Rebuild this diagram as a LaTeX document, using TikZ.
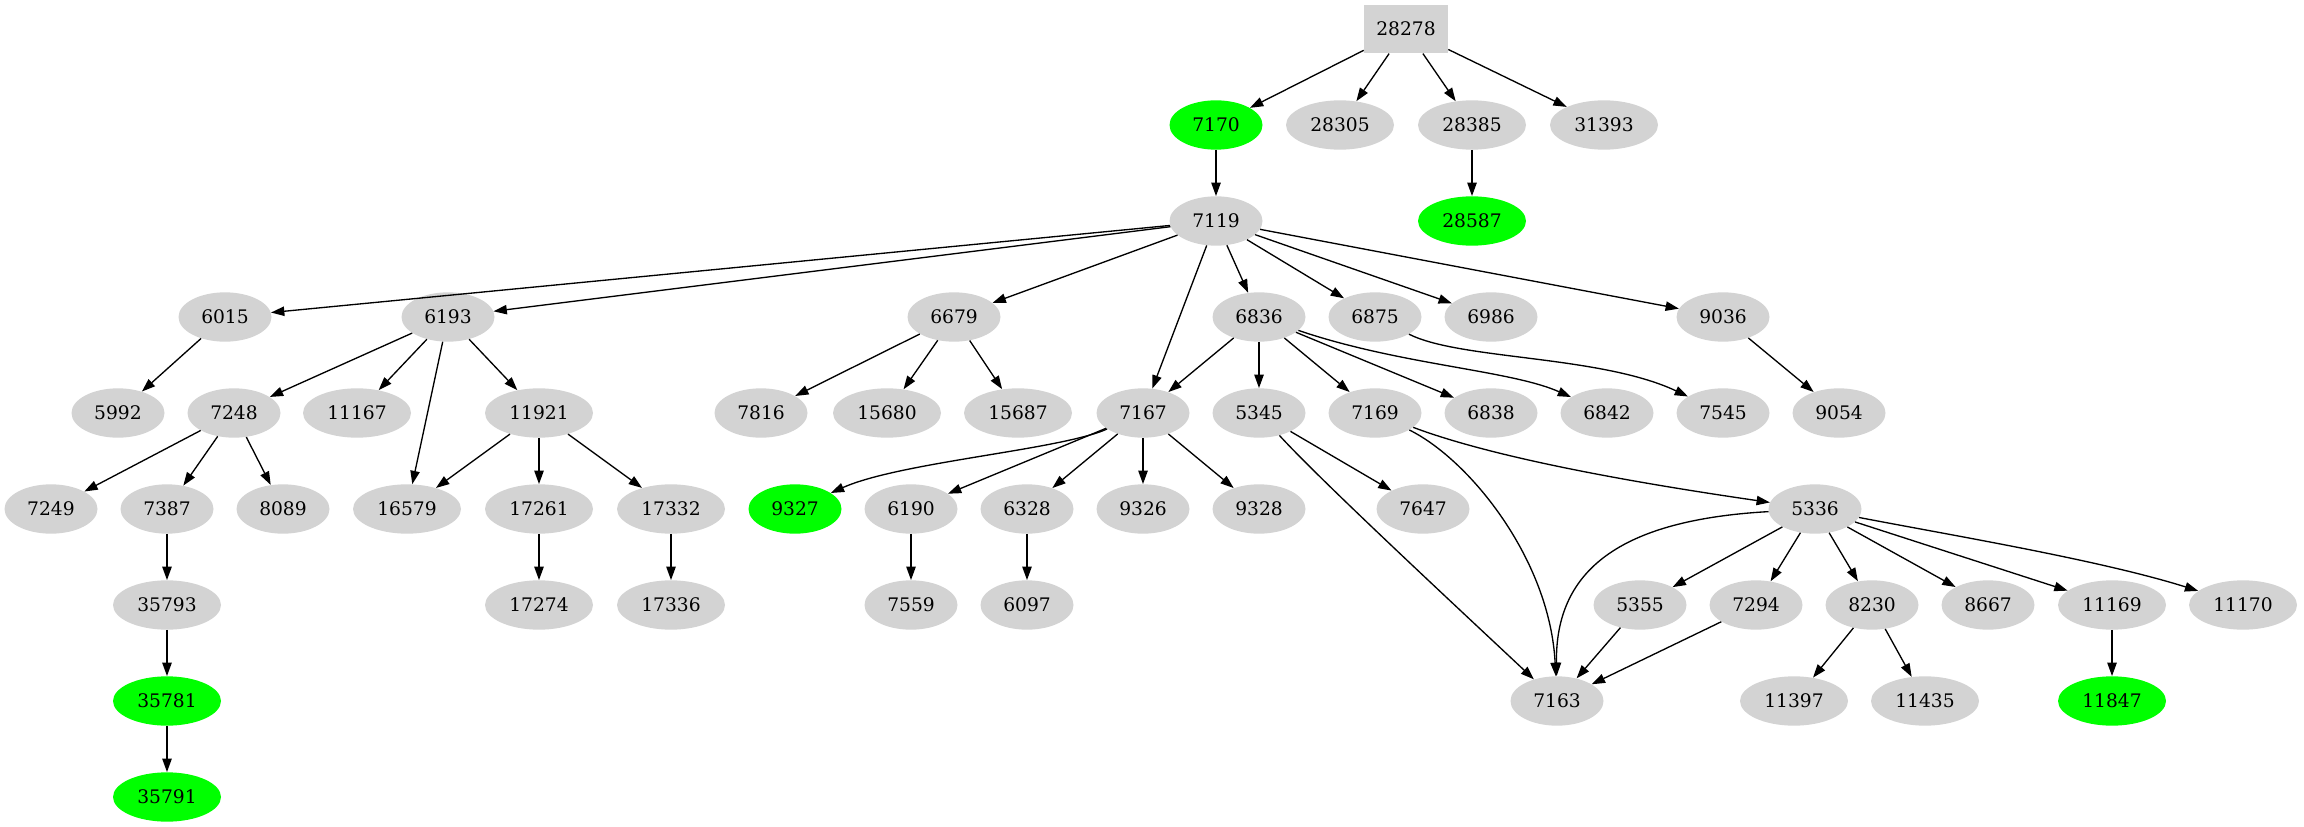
\documentclass[tikz,border=0pt]{standalone}
\usepackage{fontspec}
\setmainfont{DejaVu Serif}
\usepackage{tikz}
\usetikzlibrary{shapes.geometric, arrows.meta}
\definecolor{nodegray}{RGB}{211,211,211}
\definecolor{hitgreen}{RGB}{0,255,0}

\begin{document}
\begin{tikzpicture}[x=0.75pt, y=-0.75pt,
  gnode/.style={ellipse, fill=nodegray, inner sep=0pt, minimum width=69.75pt,
    minimum height=37pt, font=\fontsize{14}{16}\selectfont},
  wide/.style={minimum width=81pt},
  hit/.style={fill=hitgreen},
  rootbox/.style={rectangle, fill=nodegray, inner sep=0pt, minimum width=63pt,
    minimum height=36.5pt, font=\fontsize{14}{16}\selectfont},
  link/.style={-{Triangle[length=10pt, width=7pt]}, line width=1pt}]
  \useasboundingbox (0,0) rectangle (2304,827);

  % root and first rank
  \node[rootbox] (n28278) at (1406,29) {28278};
  \node[gnode, hit] (n7170) at (1216,125) {7170};
  \node[gnode, wide] (n28305) at (1340,125) {28305};
  \node[gnode, wide] (n28385) at (1472,125) {28385};
  \node[gnode, wide] (n31393) at (1604,125) {31393};
  \node[gnode] (n7119) at (1216,221) {7119};
  \node[gnode, wide, hit] (n28587) at (1472,221) {28587};

  % third rank
  \node[gnode] (n6015) at (225,317) {6015};
  \node[gnode] (n6193) at (448,317) {6193};
  \node[gnode] (n6679) at (954,317) {6679};
  \node[gnode] (n6836) at (1259,317) {6836};
  \node[gnode] (n6875) at (1375,317) {6875};
  \node[gnode] (n6986) at (1491,317) {6986};
  \node[gnode] (n9036) at (1723,317) {9036};

  % fourth rank
  \node[gnode] (n5992) at (118,413) {5992};
  \node[gnode] (n7248) at (234,413) {7248};
  \node[gnode, wide] (n11167) at (357,413) {11167};
  \node[gnode, wide] (n11921) at (539,413) {11921};
  \node[gnode] (n7816) at (761,413) {7816};
  \node[gnode, wide] (n15680) at (887,413) {15680};
  \node[gnode, wide] (n15687) at (1018,413) {15687};
  \node[gnode] (n7167) at (1143,413) {7167};
  \node[gnode] (n5345) at (1259,413) {5345};
  \node[gnode] (n7169) at (1375,413) {7169};
  \node[gnode] (n6838) at (1491,413) {6838};
  \node[gnode] (n6842) at (1607,413) {6842};
  \node[gnode] (n7545) at (1723,413) {7545};
  \node[gnode] (n9054) at (1839,413) {9054};

  % fifth rank
  \node[gnode] (n7249) at (51,509) {7249};
  \node[gnode] (n7387) at (167,509) {7387};
  \node[gnode] (n8089) at (283,509) {8089};
  \node[gnode, wide] (n16579) at (407,509) {16579};
  \node[gnode, wide] (n17261) at (539,509) {17261};
  \node[gnode, wide] (n17332) at (671,509) {17332};
  \node[gnode, hit] (n9327) at (795,509) {9327};
  \node[gnode] (n6190) at (911,509) {6190};
  \node[gnode] (n6328) at (1027,509) {6328};
  \node[gnode] (n9326) at (1143,509) {9326};
  \node[gnode] (n9328) at (1259,509) {9328};
  \node[gnode] (n7647) at (1423,509) {7647};
  \node[gnode] (n5336) at (1815,509) {5336};

  % sixth rank
  \node[gnode, wide] (n35793) at (167,605) {35793};
  \node[gnode, wide] (n17274) at (539,605) {17274};
  \node[gnode, wide] (n17336) at (671,605) {17336};
  \node[gnode] (n7559) at (911,605) {7559};
  \node[gnode] (n6097) at (1027,605) {6097};
  \node[gnode] (n5355) at (1640,605) {5355};
  \node[gnode] (n7294) at (1756,605) {7294};
  \node[gnode] (n8230) at (1872,605) {8230};
  \node[gnode] (n8667) at (1988,605) {8667};
  \node[gnode, wide] (n11169) at (2112,605) {11169};
  \node[gnode, wide] (n11170) at (2243,605) {11170};

  % bottom ranks
  \node[gnode, wide, hit] (n35781) at (167,701) {35781};
  \node[gnode] (n7163) at (1557,701) {7163};
  \node[gnode, wide] (n11397) at (1794,701) {11397};
  \node[gnode, wide] (n11435) at (1925,701) {11435};
  \node[gnode, wide, hit] (n11847) at (2112,701) {11847};
  \node[gnode, wide, hit] (n35791) at (167,797) {35791};

  % edges from the root
  \draw[link] (n28278) -- (n7170);
  \draw[link] (n28278) -- (n28305);
  \draw[link] (n28278) -- (n28385);
  \draw[link] (n28278) -- (n31393);
  \draw[link] (n7170) -- (n7119);
  \draw[link] (n28385) -- (n28587);

  % edges from 7119
  \draw[link] (n7119) -- (n6015);
  \draw[link] (n7119) -- (n6193);
  \draw[link] (n7119) -- (n6679);
  \draw[link] (n7119) -- (n7167);
  \draw[link] (n7119) -- (n6836);
  \draw[link] (n7119) -- (n6875);
  \draw[link] (n7119) -- (n6986);
  \draw[link] (n7119) -- (n9036);

  % left part
  \draw[link] (n6015) -- (n5992);
  \draw[link] (n6193) -- (n7248);
  \draw[link] (n6193) -- (n11167);
  \draw[link] (n6193) -- (n16579);
  \draw[link] (n6193) -- (n11921);
  \draw[link] (n7248) -- (n7249);
  \draw[link] (n7248) -- (n7387);
  \draw[link] (n7248) -- (n8089);
  \draw[link] (n11921) -- (n16579);
  \draw[link] (n11921) -- (n17261);
  \draw[link] (n11921) -- (n17332);
  \draw[link] (n7387) -- (n35793);
  \draw[link] (n17261) -- (n17274);
  \draw[link] (n17332) -- (n17336);
  \draw[link] (n35793) -- (n35781);
  \draw[link] (n35781) -- (n35791);

  % middle part
  \draw[link] (n6679) -- (n7816);
  \draw[link] (n6679) -- (n15680);
  \draw[link] (n6679) -- (n15687);
  \draw[link] (n6836) -- (n7167);
  \draw[link] (n6836) -- (n5345);
  \draw[link] (n6836) -- (n7169);
  \draw[link] (n6836) -- (n6838);
  \draw[link] (n6836) .. controls (1400,365) and (1510,370) .. (n6842);
  \draw[link] (n6875) .. controls (1460,360) and (1600,355) .. (n7545);
  \draw[link] (n9036) -- (n9054);
  \draw[link] (n7167) .. controls (1060,450) and (900,462) .. (n9327);
  \draw[link] (n7167) -- (n6190);
  \draw[link] (n7167) -- (n6328);
  \draw[link] (n7167) -- (n9326);
  \draw[link] (n7167) -- (n9328);
  \draw[link] (n6190) -- (n7559);
  \draw[link] (n6328) -- (n6097);
  \draw[link] (n5345) -- (n7647);
  \draw[link] (n5345) .. controls (1320,480) and (1460,610) .. (n7163);
  \draw[link] (n7169) .. controls (1470,460) and (1550,560) .. (n7163);
  \draw[link] (n7169) .. controls (1500,460) and (1650,485) .. (n5336);

  % right part
  \draw[link] (n5336) .. controls (1620,520) and (1555,570) .. (n7163);
  \draw[link] (n5336) -- (n5355);
  \draw[link] (n5336) -- (n7294);
  \draw[link] (n5336) -- (n8230);
  \draw[link] (n5336) -- (n8667);
  \draw[link] (n5336) -- (n11169);
  \draw[link] (n5336) .. controls (1950,535) and (2100,560) .. (n11170);
  \draw[link] (n5355) -- (n7163);
  \draw[link] (n7294) -- (n7163);
  \draw[link] (n8230) -- (n11397);
  \draw[link] (n8230) -- (n11435);
  \draw[link] (n11169) -- (n11847);
\end{tikzpicture}
\end{document}
